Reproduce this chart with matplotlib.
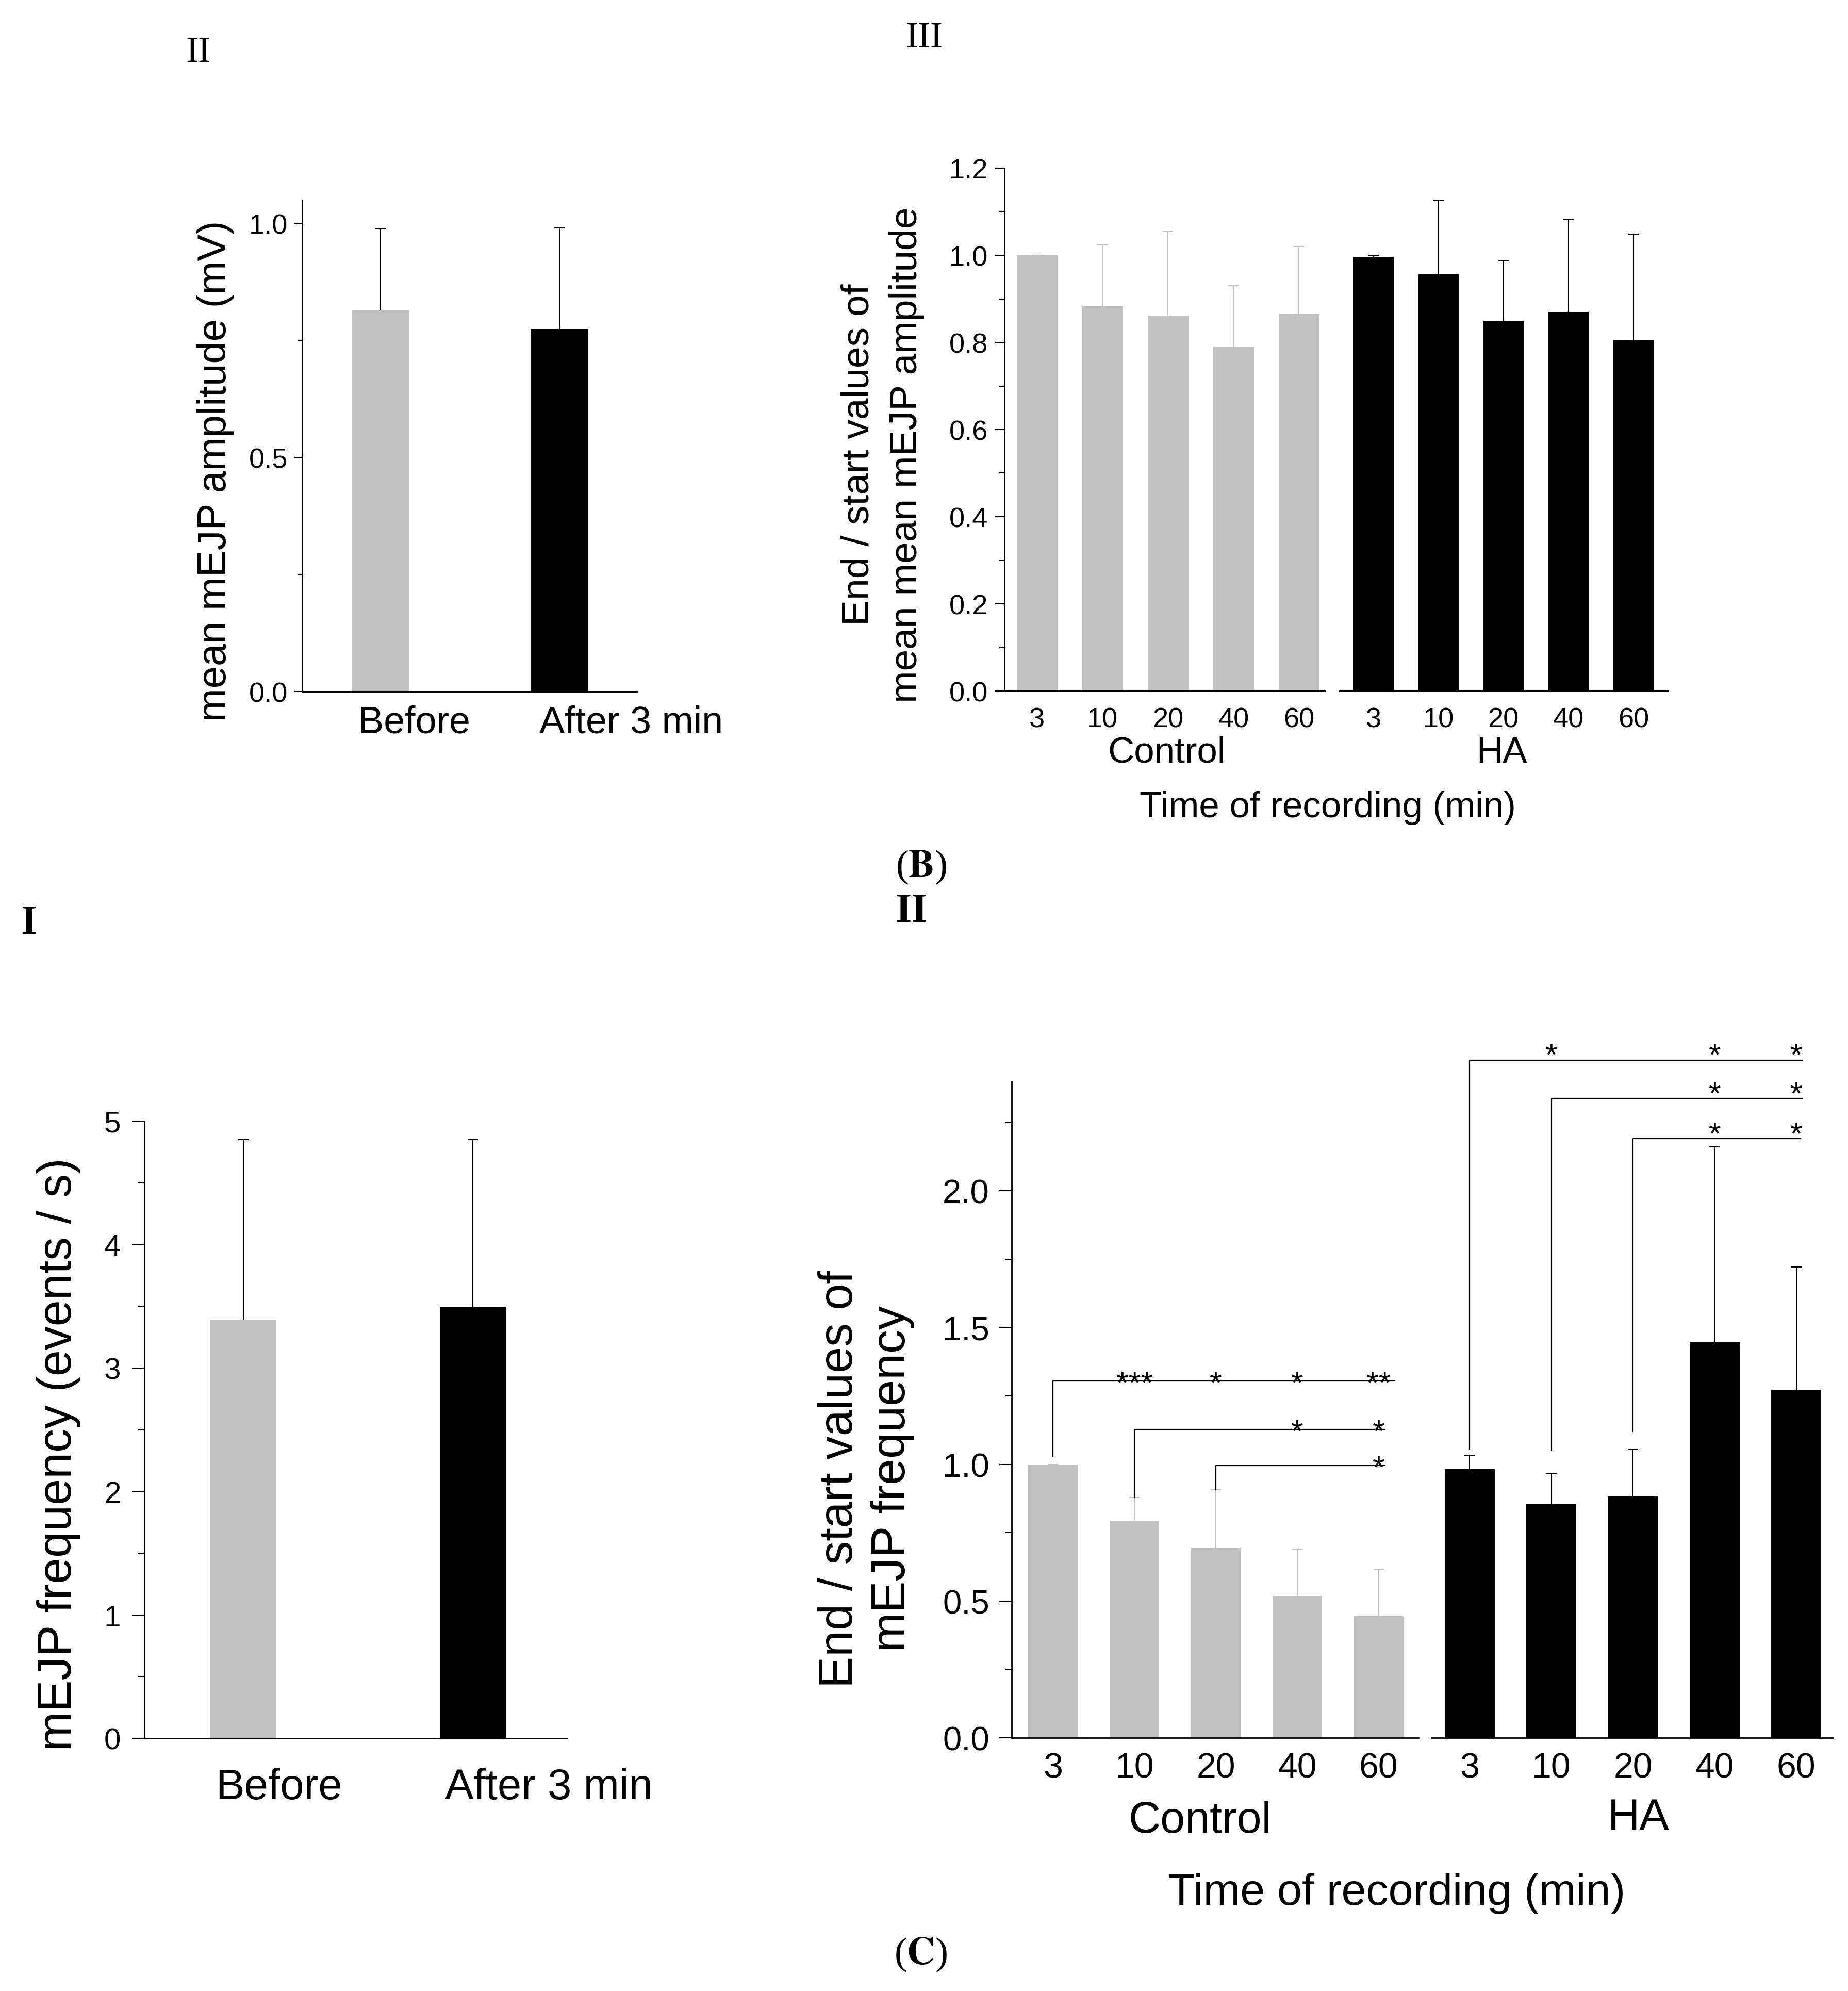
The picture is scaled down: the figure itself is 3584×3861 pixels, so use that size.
import matplotlib
matplotlib.use('Agg')
import matplotlib.pyplot as plt
from matplotlib.ticker import MultipleLocator

plt.rcParams['font.family'] = ['Liberation Sans', 'DejaVu Sans']
plt.rcParams['mathtext.fontset'] = 'stix'

W, H = 3584, 3862
GRAY = '#c0c0c0'

# data
cond_labels = ['Before', 'After 3 min']
amp_mean = [0.815, 0.774]
amp_err = [0.172, 0.216]
freq_mean = [3.39, 3.49]
freq_err = [1.46, 1.36]

times = ['3', '10', '20', '40', '60']
amp_ratio_ctrl = [1.0, 0.883, 0.862, 0.79, 0.865]
amp_ratio_ctrl_err = [0.0, 0.141, 0.194, 0.14, 0.155]
amp_ratio_ha = [0.997, 0.956, 0.850, 0.870, 0.805]
amp_ratio_ha_err = [0.003, 0.171, 0.138, 0.213, 0.243]
freq_ratio_ctrl = [1.0, 0.794, 0.693, 0.518, 0.445]
freq_ratio_ctrl_err = [0.0, 0.084, 0.213, 0.172, 0.172]
freq_ratio_ha = [0.982, 0.856, 0.883, 1.447, 1.273]
freq_ratio_ha_err = [0.052, 0.112, 0.172, 0.714, 0.449]

# significance brackets: (start bar, line bottom, line height, line end, {bar: stars})
sig_ctrl = [(0, 1.03, 1.305, 4.2, {1: '***', 2: '*', 3: '*', 4: '**'}),
            (1, 0.878, 1.128, 4.08, {3: '*', 4: '*'}),
            (2, 0.906, 0.995, 4.08, {4: '*'})]
sig_ha = [(0, 1.055, 2.477, 4.07, {1: '*', 3: '*', 4: '*'}),
          (1, 1.05, 2.337, 4.07, {3: '*', 4: '*'}),
          (2, 1.12, 2.19, 4.05, {3: '*', 4: '*'})]

fig = plt.figure(figsize=(W / 100, H / 100), dpi=100)


def px_axes(left, top, right, bottom):
    return fig.add_axes([left / W, 1 - bottom / H, (right - left) / W, (bottom - top) / H])


def ftext(x, y, s, **kw):
    fig.text(x / W, 1 - y / H, s, ha='center', va='center', **kw)


def style(ax, show_y=True, lw=2.2):
    for side in ['top', 'right']:
        ax.spines[side].set_visible(False)
    ax.spines['bottom'].set_linewidth(lw)
    ax.spines['left'].set_linewidth(lw)
    if not show_y:
        ax.spines['left'].set_visible(False)
        ax.set_yticks([])
    ax.set_facecolor('none')


def bars(ax, means, errs, color, ecolor, width):
    # 下側の誤差棒は棒の後ろに隠れる
    x = list(range(len(means)))
    ax.bar(x, means, width, color=color, zorder=2)
    ax.errorbar(x, means, yerr=errs, fmt='none', ecolor=ecolor,
                elinewidth=1.5, capsize=7, capthick=1.5, zorder=1)


def sig(ax, brackets, off, fs):
    for start, y0, y1, x_end, stars in brackets:
        ax.plot([start, start, x_end], [y0, y1, y1], color='k', lw=1.6, clip_on=False)
        for i, s in stars.items():
            ax.text(i, y1 + off, s, ha='center', va='center', fontsize=fs, clip_on=False)


# ---- A II ----
ax = px_axes(586, 390, 1235, 1342)
style(ax)
bars(ax, amp_mean, amp_err, [GRAY, 'black'], 'black', 0.32)
ax.set_xlim(-0.438, 1.432)
ax.set_ylim(0, 1.048)
ax.yaxis.set_major_locator(MultipleLocator(0.5))
ax.yaxis.set_minor_locator(MultipleLocator(0.25))
ax.set_xticks([0.19, 1.40], cond_labels)
ax.tick_params(axis='x', length=0, pad=18, labelsize=53)
ax.tick_params(axis='y', which='major', length=11, width=1.5, pad=9, labelsize=39)
ax.tick_params(axis='y', which='minor', length=6, width=1.5)
ftext(418, 913, 'mean mEJP amplitude (mV)', rotation=90, fontsize=56)
ftext(384, 102, 'II', family='Liberation Serif', fontsize=52)

# ---- A III ----
axc = px_axes(1948, 327, 2569, 1341)
style(axc)
bars(axc, amp_ratio_ctrl, amp_ratio_ctrl_err, GRAY, GRAY, 0.62)
axc.set_xlim(-0.5, 4.39)
axc.set_ylim(0, 1.2)
axc.yaxis.set_major_locator(MultipleLocator(0.2))
axc.yaxis.set_minor_locator(MultipleLocator(0.1))
axc.set_xticks(range(5), times)
axc.tick_params(axis='x', length=0, pad=22, labelsize=39)
axc.tick_params(axis='y', which='major', length=13, width=1.5, pad=10, labelsize=39)
axc.tick_params(axis='y', which='minor', length=7, width=1.5)

axh = px_axes(2598, 327, 3235, 1341)
style(axh, show_y=False)
bars(axh, amp_ratio_ha, amp_ratio_ha_err, 'black', 'black', 0.62)
axh.set_xlim(-0.52, 4.53)
axh.set_ylim(0, 1.2)
axh.set_xticks(range(5), times)
axh.tick_params(axis='x', length=0, pad=22, labelsize=39)

ftext(1712, 882, 'End / start values of\nmean mean mEJP amplitude', rotation=90,
      fontsize=54, linespacing=1.45)
ftext(2263, 1461, 'Control', fontsize=51)
ftext(2912, 1461, 'HA', fontsize=51)
ftext(2575, 1567, 'Time of recording (min)', fontsize=51)
ftext(1792, 74, 'III', family='Liberation Serif', fontsize=52)
ftext(1786, 1682, r'($\mathbf{B}$)', family='Liberation Serif', fontsize=54)
ftext(1768, 1768, 'II', family='Liberation Serif', weight='bold', fontsize=58)

# ---- B I ----
ax = px_axes(280, 2175, 1100, 3372)
style(ax)
bars(ax, freq_mean, freq_err, [GRAY, 'black'], 'black', 0.29)
ax.set_xlim(-0.43, 1.41)
ax.set_ylim(0, 5)
ax.yaxis.set_major_locator(MultipleLocator(1))
ax.yaxis.set_minor_locator(MultipleLocator(0.5))
ax.set_xticks([0.155, 1.33], cond_labels)
ax.tick_params(axis='x', length=0, pad=40, labelsize=60)
ax.tick_params(axis='y', which='major', length=17, width=1.5, pad=16, labelsize=42)
ax.tick_params(axis='y', which='minor', length=9, width=1.5)
ftext(114, 2820, 'mEJP frequency (events / s)', rotation=90, fontsize=66)
ftext(56, 1792, 'I', family='Liberation Serif', weight='bold', fontsize=58)

# ---- B II ----
axc = px_axes(1962, 2098, 2751, 3371)
style(axc, lw=2.0)
bars(axc, freq_ratio_ctrl, freq_ratio_ctrl_err, GRAY, GRAY, 0.61)
axc.set_xlim(-0.51, 4.49)
axc.set_ylim(0, 2.4)
axc.yaxis.set_major_locator(MultipleLocator(0.5))
axc.yaxis.set_minor_locator(MultipleLocator(0.25))
axc.set_xticks(range(5), times)
axc.tick_params(axis='x', length=0, pad=19, labelsize=49)
axc.tick_params(axis='y', which='major', length=17, width=1.5, pad=14, labelsize=47)
axc.tick_params(axis='y', which='minor', length=9, width=1.5)
sig(axc, sig_ctrl, -0.013, 44)

axh = px_axes(2776, 2098, 3555, 3371)
style(axh, show_y=False, lw=2.0)
bars(axh, freq_ratio_ha, freq_ratio_ha_err, 'black', 'black', 0.61)
axh.set_xlim(-0.47, 4.45)
axh.set_ylim(0, 2.4)
axh.set_xticks(range(5), times)
axh.tick_params(axis='x', length=0, pad=19, labelsize=49)
sig(axh, sig_ha, 0.013, 44)

ftext(1680, 2868, 'End / start values of\nmEJP frequency', rotation=90,
      fontsize=66, linespacing=1.25)
ftext(2327, 3532, 'Control', fontsize=62)
ftext(3178, 3526, 'HA', fontsize=62)
ftext(2709, 3672, 'Time of recording (min)', fontsize=62)
ftext(1785, 3791, r'($\mathbf{C}$)', family='Liberation Serif', fontsize=54)

fig.savefig('out.png', dpi=100)
